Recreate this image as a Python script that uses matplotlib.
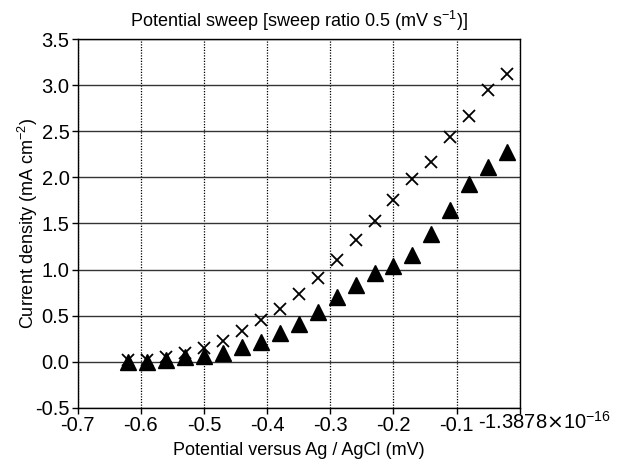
import numpy as np
import matplotlib
matplotlib.use('Agg')
from matplotlib import pyplot as plt
from matplotlib.transforms import ScaledTranslation

plt.rcParams['font.family'] = ['Liberation Sans', 'DejaVu Sans']
plt.rcParams['axes.unicode_minus'] = False

# potential (mV) and current density (mA cm-2)
potential = [-0.62, -0.59, -0.56, -0.53, -0.50, -0.47, -0.44, -0.41, -0.38, -0.35, -0.32,
             -0.29, -0.26, -0.23, -0.20, -0.17, -0.14, -0.11, -0.08, -0.05, -0.02]
crosses = [0.02, 0.02, 0.05, 0.09, 0.15, 0.23, 0.33, 0.45, 0.57, 0.73, 0.91,
           1.10, 1.32, 1.53, 1.75, 1.98, 2.17, 2.44, 2.67, 2.95, 3.12]
triangles = [0.00, 0.00, 0.02, 0.05, 0.06, 0.10, 0.16, 0.22, 0.31, 0.41, 0.54,
             0.70, 0.83, 0.96, 1.04, 1.16, 1.39, 1.65, 1.93, 2.11, 2.27]

xticks = [-0.7, -0.6, -0.5, -0.4, -0.3, -0.2, -0.1, 0.0]
xticklabels = ['-0.7', '-0.6', '-0.5', '-0.4', '-0.3', '-0.2', '-0.1',
               '-1.3878$\\times$10$^{\\mathregular{-16}}$']
yticks = [-0.5, 0.0, 0.5, 1.0, 1.5, 2.0, 2.5, 3.0, 3.5]
yticklabels = ['-0.5', '0.0', '0.5', '1.0', '1.5', '2.0', '2.5', '3.0', '3.5']

fig = plt.figure(figsize=(6.27, 4.71), dpi=100)
ax = fig.add_axes([0.124, 0.134, 0.705, 0.783])

ax.plot(potential, triangles, linestyle='none', marker='^', markersize=11,
        color='black', zorder=3)
ax.plot(potential, crosses, linestyle='none', marker='x', markersize=8.5,
        markeredgewidth=1.3, color='black', zorder=4)

ax.set_xlim(-0.7, 0.0)
ax.set_ylim(-0.5, 3.5)
ax.set_xticks(xticks)
ax.set_xticklabels(xticklabels, fontsize=14.5)
ax.set_yticks(yticks)
ax.set_yticklabels(yticklabels, fontsize=14.5)
ax.tick_params(direction='out', length=4, width=1, pad=2)

# last label sits to the right of its tick, on the same baseline as the others
lab = ax.get_xticklabels()[-1]
lab.set_transform(lab.get_transform() + ScaledTranslation(0.25, 0.05, fig.dpi_scale_trans))

ax.xaxis.grid(True, linestyle=(0, (1, 1.2)), color='black', linewidth=0.9)
ax.yaxis.grid(True, linestyle='-', color='#333333', linewidth=1.0)
ax.set_axisbelow(True)
for sp in ax.spines.values():
    sp.set_linewidth(1.0)

ax.set_xlabel('Potential versus Ag / AgCl (mV)', fontsize=13, labelpad=5)
ax.set_ylabel('Current density (mA cm$^{\\mathregular{-2}}$)', fontsize=13, labelpad=-4)
ax.set_title('Potential sweep [sweep ratio 0.5 (mV s$^{\\mathregular{-1}}$)]',
             fontsize=13, pad=9)

fig.savefig('out.png', dpi=100)
